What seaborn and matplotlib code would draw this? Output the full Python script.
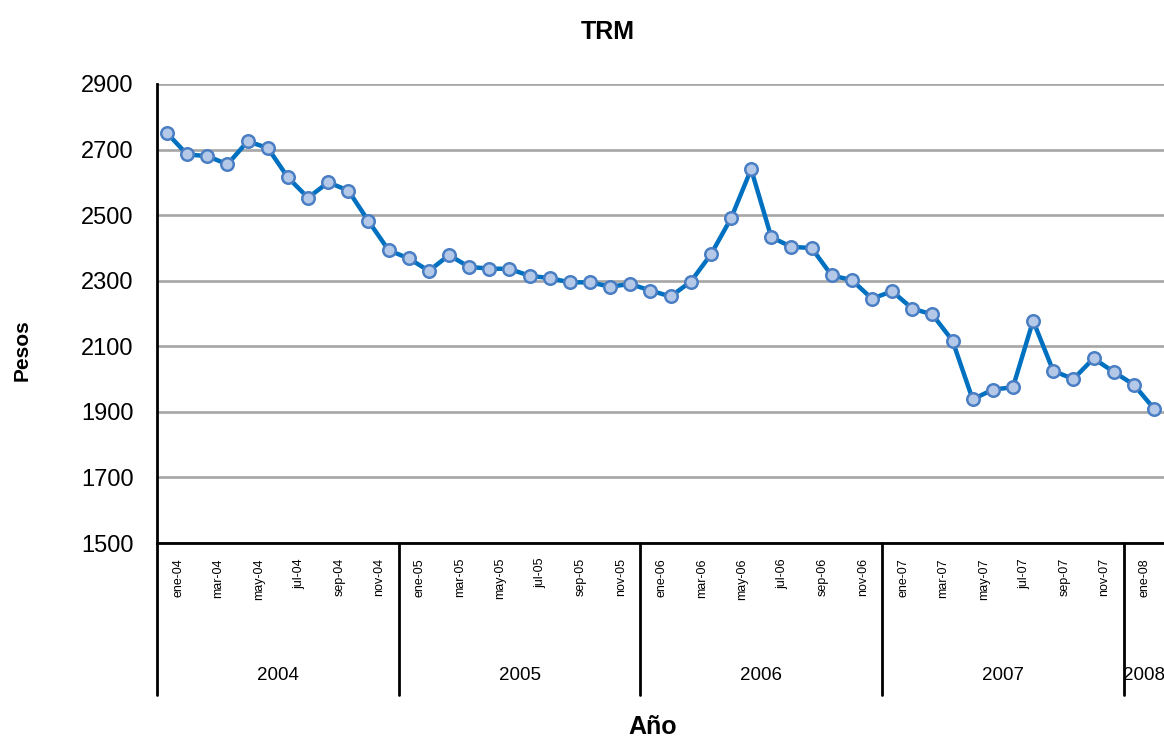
import matplotlib
matplotlib.use('Agg')
import matplotlib.pyplot as plt
import seaborn as sns
import numpy as np
import pandas as pd

# ---- data ----
years = ['2004', '2005', '2006', '2007', '2008']
months_per_year = [12, 12, 12, 12, 2]
month_names = ['ene', 'feb', 'mar', 'abr', 'may', 'jun',
               'jul', 'ago', 'sep', 'oct', 'nov', 'dic']
trm_2004 = [2750, 2685, 2680, 2655, 2725, 2705, 2615, 2553, 2600, 2575, 2482, 2393]
trm_2005 = [2368, 2330, 2378, 2342, 2337, 2336, 2315, 2308, 2295, 2295, 2282, 2290]
trm_2006 = [2270, 2252, 2297, 2380, 2490, 2640, 2433, 2403, 2400, 2316, 2302, 2245]
trm_2007 = [2268, 2215, 2197, 2117, 1938, 1968, 1975, 2178, 2025, 2000, 2063, 2022]
trm_2008 = [1983, 1910]
y_ticks = [1500, 1700, 1900, 2100, 2300, 2500, 2700, 2900]

title = 'TRM'
x_title = 'Año'
y_title = 'Pesos'

values = trm_2004 + trm_2005 + trm_2006 + trm_2007 + trm_2008
labels = []
for y, n in zip(years, months_per_year):
    for m in range(n):
        labels.append((y, m, month_names[m]))
df = pd.DataFrame({'idx': np.arange(len(values)), 'trm': values})

# ---- figure ----
sns.set_style('white')
plt.rcParams['font.family'] = ['Liberation Sans', 'DejaVu Sans']
plt.rcParams['text.color'] = 'black'
plt.rcParams['ytick.color'] = 'black'
plt.rcParams['xtick.color'] = 'black'

W, H = 1164, 738
fig = plt.figure(figsize=(W / 100, H / 100), dpi=100)
ax = fig.add_axes([157 / W, (H - 543) / H, (W - 157) / W, (543 - 84) / H])

for t in y_ticks:
    ax.axhline(t, color='#A6A6A6', lw=1.9, zorder=0)

sns.lineplot(data=df, x='idx', y='trm', ax=ax, color='#0070C0', linewidth=3.2,
             marker='o', markersize=9, markerfacecolor='#B4C8E8',
             markeredgecolor='#4A7EC4', markeredgewidth=1.8, zorder=3)

ax.set_xlim(-0.5, len(values) - 0.5)
ax.set_ylim(1500, 2900)
ax.set_yticks(y_ticks)
ax.set_yticklabels([str(t) for t in y_ticks], fontsize=17, color='black')
ax.set_xticks([])
ax.set_xlabel('')
ax.set_ylabel('')
ax.grid(False)
for s in ['top', 'right']:
    ax.spines[s].set_visible(False)
for s in ['left', 'bottom']:
    ax.spines[s].set_color('black')
    ax.spines[s].set_linewidth(2)
ax.tick_params(axis='y', direction='out', length=7, width=2, color='black', pad=10)

trans = ax.get_xaxis_transform()
ax_h = 543 - 84
# year separators
bounds = [-0.5]
for n in months_per_year:
    bounds.append(bounds[-1] + n)
for b in bounds[:-1]:
    ax.plot([b, b], [0, -(695 - 543) / ax_h], transform=trans, color='black',
            lw=2, clip_on=False, zorder=5)
# year labels
for i, y in enumerate(years):
    cx = (bounds[i] + bounds[i + 1]) / 2
    ax.text(cx, -(676 - 543) / ax_h, y, transform=trans, ha='center', va='center',
            fontsize=13.5, color='black', clip_on=False)
# month labels (every other month)
for i, (y, m, name) in enumerate(labels):
    if m % 2 == 0:
        ax.text(i + 0.55, -(558 - 543) / ax_h, name + '-' + y[2:], transform=trans,
                rotation=90, ha='center', va='top', fontsize=9, color='black',
                clip_on=False)

fig.text(608 / W, 1 - 32 / H, title, ha='center', va='center', fontsize=18,
         fontweight='bold', color='black')
fig.text(653 / W, 1 - 727 / H, x_title, ha='center', va='center', fontsize=18,
         fontweight='bold', color='black')
fig.text(22 / W, 1 - 350 / H, y_title, ha='center', va='center', fontsize=15,
         fontweight='bold', rotation=90, color='black')

fig.savefig('out.png', dpi=100)
